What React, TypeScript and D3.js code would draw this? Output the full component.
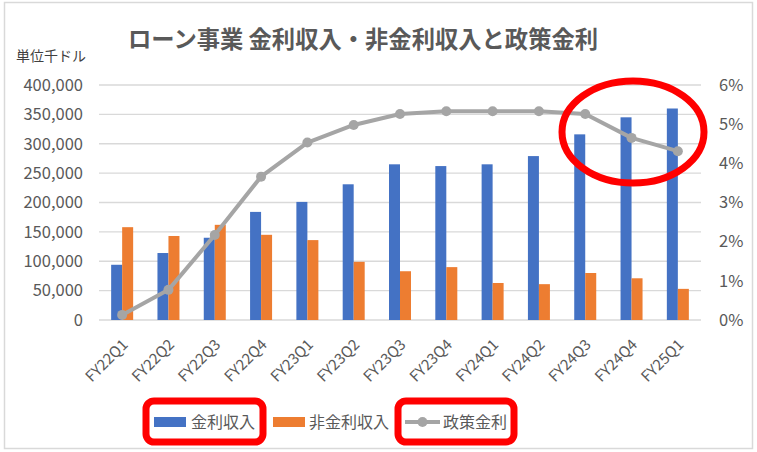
import * as d3 from "d3";
import { useEffect, useRef } from "react";

const categories = [
  "FY22Q1", "FY22Q2", "FY22Q3", "FY22Q4", "FY23Q1", "FY23Q2", "FY23Q3",
  "FY23Q4", "FY24Q1", "FY24Q2", "FY24Q3", "FY24Q4", "FY25Q1",
];
const interestIncome = [
  94000, 114000, 140000, 184000, 201000, 231000, 265000, 262000, 265000,
  279000, 316000, 345000, 360000,
];
const nonInterestIncome = [
  158000, 143000, 162000, 145000, 136000, 99000, 83000, 90000, 63000, 61000,
  80000, 71000, 53000,
];
const policyRate = [
  0.13, 0.77, 2.17, 3.66, 4.53, 4.98, 5.26, 5.33, 5.33, 5.33, 5.26, 4.65, 4.31,
];
const leftTicks = [0, 50000, 100000, 150000, 200000, 250000, 300000, 350000, 400000];
const rightTicks = [0, 1, 2, 3, 4, 5, 6];

const W = 757;
const H = 452;
const FONT = "'Noto Sans CJK JP', 'Noto Sans', sans-serif";
const TEXT = "#595959";
const BLUE = "#4472C4";
const ORANGE = "#ED7D31";
const GRAY = "#A5A5A5";
const RED = "#FF0000";

const Chart = () => {
  const ref = useRef<SVGSVGElement | null>(null);

  useEffect(() => {
    const svg = d3.select(ref.current);
    svg.selectAll("*").remove();

    const left = 99;
    const right = 701;
    const top = 85;
    const bottom = 320;

    const x = d3.scaleBand().domain(categories).range([left, right]);
    const inner = d3
      .scaleBand()
      .domain(["a", "b"])
      .range([0, 22])
      .padding(0);
    const y = d3.scaleLinear().domain([0, 400000]).range([bottom, top]);
    const y2 = d3.scaleLinear().domain([0, 6]).range([bottom, top]);

    svg
      .append("rect")
      .attr("x", 4.5)
      .attr("y", 2.5)
      .attr("width", 748)
      .attr("height", 446)
      .attr("fill", "#fff")
      .attr("stroke", "#d9d9d9")
      .attr("stroke-width", 1.5);

    // gridlines
    svg
      .append("g")
      .selectAll("line")
      .data(leftTicks)
      .join("line")
      .attr("x1", left)
      .attr("x2", right)
      .attr("y1", (d) => y(d))
      .attr("y2", (d) => y(d))
      .attr("stroke", "#d9d9d9")
      .attr("stroke-width", 1.3);

    // left ticks
    svg
      .append("g")
      .selectAll("text")
      .data(leftTicks)
      .join("text")
      .attr("x", 83)
      .attr("y", (d) => y(d))
      .attr("dy", "0.35em")
      .attr("text-anchor", "end")
      .attr("font-family", FONT)
      .attr("font-size", 16.5)
      .attr("fill", TEXT)
      .text((d) => d3.format(",")(d));

    // right ticks
    svg
      .append("g")
      .selectAll("text")
      .data(rightTicks)
      .join("text")
      .attr("x", 719)
      .attr("y", (d) => y2(d))
      .attr("dy", "0.35em")
      .attr("font-family", FONT)
      .attr("font-size", 16.5)
      .attr("fill", TEXT)
      .text((d) => `${d}%`);

    const offset = (x.bandwidth() - 22) / 2;

    svg
      .append("g")
      .selectAll("rect")
      .data(interestIncome)
      .join("rect")
      .attr("x", (_, i) => (x(categories[i]) ?? 0) + offset + (inner("a") ?? 0))
      .attr("y", (d) => y(d))
      .attr("width", inner.bandwidth())
      .attr("height", (d) => bottom - y(d))
      .attr("fill", BLUE);

    svg
      .append("g")
      .selectAll("rect")
      .data(nonInterestIncome)
      .join("rect")
      .attr("x", (_, i) => (x(categories[i]) ?? 0) + offset + (inner("b") ?? 0))
      .attr("y", (d) => y(d))
      .attr("width", inner.bandwidth())
      .attr("height", (d) => bottom - y(d))
      .attr("fill", ORANGE);

    const cx = (i: number) => (x(categories[i]) ?? 0) + x.bandwidth() / 2;

    const line = d3
      .line<number>()
      .x((_, i) => cx(i))
      .y((d) => y2(d));

    svg
      .append("path")
      .datum(policyRate)
      .attr("d", line)
      .attr("fill", "none")
      .attr("stroke", GRAY)
      .attr("stroke-width", 4)
      .attr("stroke-linejoin", "round");

    svg
      .append("g")
      .selectAll("circle")
      .data(policyRate)
      .join("circle")
      .attr("cx", (_, i) => cx(i))
      .attr("cy", (d) => y2(d))
      .attr("r", 5)
      .attr("fill", GRAY);

    // x labels
    svg
      .append("g")
      .selectAll("text")
      .data(categories)
      .join("text")
      .attr("transform", (_, i) => `translate(${cx(i) + 3},${bottom + 22}) rotate(-45)`)
      .attr("text-anchor", "end")
      .attr("dy", "0.35em")
      .attr("font-family", FONT)
      .attr("font-size", 15)
      .attr("fill", TEXT)
      .text((d) => d);

    // title
    svg
      .append("text")
      .attr("x", 363)
      .attr("y", 48)
      .attr("text-anchor", "middle")
      .attr("font-family", FONT)
      .attr("font-size", 23.3)
      .attr("font-weight", "bold")
      .attr("fill", TEXT)
      .text("ローン事業 金利収入・非金利収入と政策金利");

    svg
      .append("text")
      .attr("x", 16)
      .attr("y", 61)
      .attr("font-family", FONT)
      .attr("font-size", 14)
      .attr("fill", "#404040")
      .text("単位千ドル");

    // legend
    const lg = svg.append("g").attr("font-family", FONT).attr("font-size", 16).attr("fill", TEXT);
    lg.append("rect").attr("x", 154).attr("y", 417).attr("width", 32).attr("height", 10).attr("fill", BLUE);
    lg.append("text").attr("x", 191).attr("y", 422).attr("dy", "0.35em").text("金利収入");
    lg.append("rect").attr("x", 273).attr("y", 417).attr("width", 32).attr("height", 10).attr("fill", ORANGE);
    lg.append("text").attr("x", 309).attr("y", 422).attr("dy", "0.35em").text("非金利収入");
    lg.append("line").attr("x1", 405).attr("x2", 440).attr("y1", 422).attr("y2", 422).attr("stroke", GRAY).attr("stroke-width", 4);
    lg.append("circle").attr("cx", 422.5).attr("cy", 422).attr("r", 5).attr("fill", GRAY);
    lg.append("text").attr("x", 443).attr("y", 422).attr("dy", "0.35em").text("政策金利");

    // red highlights
    const hl = svg.append("g").attr("fill", "none").attr("stroke", RED).attr("stroke-width", 7);
    hl.append("rect").attr("x", 146).attr("y", 401).attr("width", 117).attr("height", 41).attr("rx", 8);
    hl.append("rect").attr("x", 398).attr("y", 401).attr("width", 116).attr("height", 41).attr("rx", 8);
    hl.append("ellipse").attr("cx", 633).attr("cy", 132).attr("rx", 71).attr("ry", 51);
  }, []);

  return (
    <svg
      ref={ref}
      width={W}
      height={H}
      style={{ position: "absolute", left: 0, top: 0 }}
    />
  );
};

export default function App() {
  return <Chart />;
}
